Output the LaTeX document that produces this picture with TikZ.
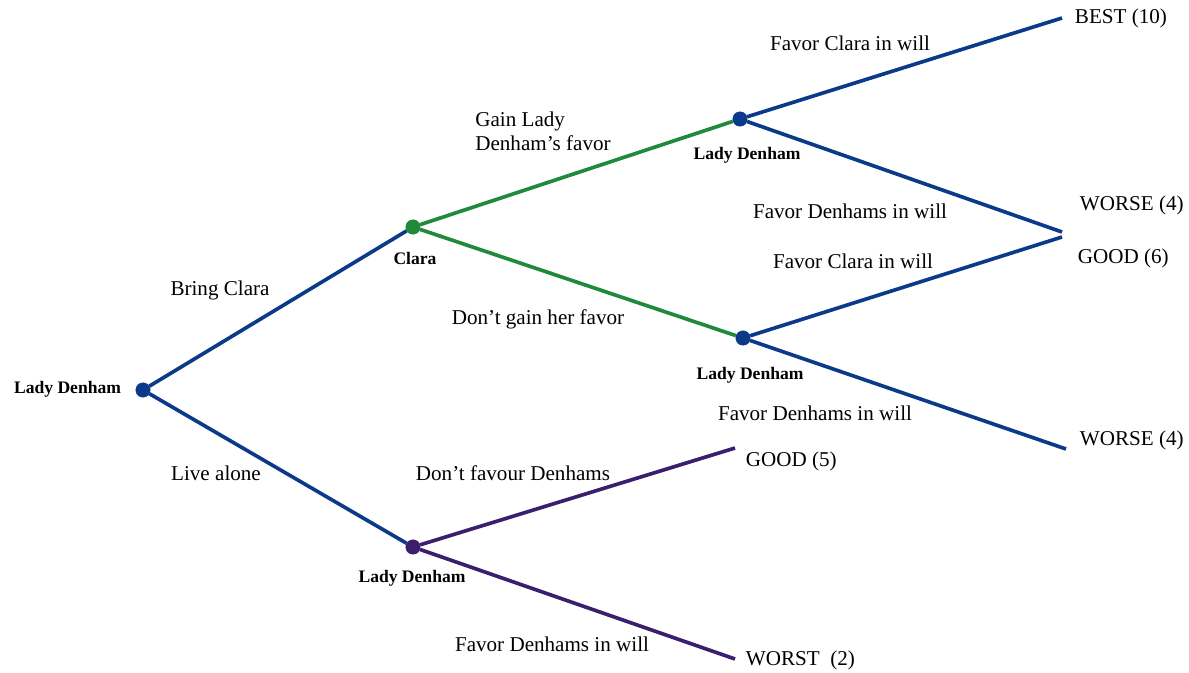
\documentclass[tikz,border=0pt]{standalone}
\usepackage{fontspec}
\setmainfont{Liberation Serif}
\definecolor{treeblue}{HTML}{0B3A8A}
\definecolor{treegreen}{HTML}{1E8A3A}
\definecolor{treepurple}{HTML}{3B1E6E}
\begin{document}
\begin{tikzpicture}[
    x=0.025cm, y=-0.025cm,
    dot/.style={circle, fill=#1, draw=#1, inner sep=0pt, minimum size=0.36cm},
    branch/.style={line width=2.6pt, draw=#1},
    who/.style={font=\fontsize{12.5}{14}\selectfont\bfseries},
    act/.style={font=\fontsize{15}{17}\selectfont, align=left},
    pay/.style={font=\fontsize{15}{17}\selectfont, anchor=west}
]
\useasboundingbox (0,0) rectangle (1189,672);

% Decision points
\node[dot=treeblue] (root) at (143, 390) {};
\node[dot=treegreen] (clara) at (413, 227) {};
\node[dot=treeblue] (ldup) at (740, 119) {};
\node[dot=treeblue] (ldmid) at (743, 338) {};
\node[dot=treepurple] (ldlow) at (413, 547) {};

% Who decides
\node[who, anchor=east] at (126, 389) {Lady Denham};
\node[who] at (415, 258) {Clara};
\node[who] at (747, 155) {Lady Denham};
\node[who] at (750, 375) {Lady Denham};
\node[who] at (412, 578) {Lady Denham};

% Ends of the branches
\coordinate (best) at (1062, 18);
\coordinate (worseup) at (1062, 232);
\coordinate (goodsix) at (1062, 237);
\coordinate (worselow) at (1066, 449);
\coordinate (goodfive) at (735, 448);
\coordinate (worst) at (735, 659);

% Payoffs
\node[pay] at (1070, 18) {BEST (10)};
\node[pay] at (1075, 205) {WORSE (4)};
\node[pay] at (1073, 258) {GOOD (6)};
\node[pay] at (1075, 440) {WORSE (4)};
\node[pay] at (741, 461) {GOOD (5)};
\node[pay] at (741, 660) {WORST\ \ (2)};

% Branches
\draw[branch=treeblue] (root) -- (clara);
\draw[branch=treeblue] (root) -- (ldlow);
\draw[branch=treegreen] (clara) -- (ldup);
\draw[branch=treegreen] (clara) -- (ldmid);
\draw[branch=treeblue] (ldup) -- (best);
\draw[branch=treeblue] (ldup) -- (worseup);
\draw[branch=treeblue] (ldmid) -- (goodsix);
\draw[branch=treeblue] (ldmid) -- (worselow);
\draw[branch=treepurple] (ldlow) -- (goodfive);
\draw[branch=treepurple] (ldlow) -- (worst);

% Choices
\node[act] at (220, 290) {Bring Clara};
\node[act] at (216, 473) {Live alone};
\node[act] at (543, 131) {Gain Lady\\Denham's favor};
\node[act] at (538, 319) {Don't gain her favor};
\node[act] at (850, 43) {Favor Clara in will};
\node[act] at (850, 211) {Favor Denhams in will};
\node[act] at (853, 261) {Favor Clara in will};
\node[act] at (815, 413) {Favor Denhams in will};
\node[act] at (513, 473) {Don't favour Denhams};
\node[act] at (552, 644) {Favor Denhams in will};

\end{tikzpicture}
\end{document}
